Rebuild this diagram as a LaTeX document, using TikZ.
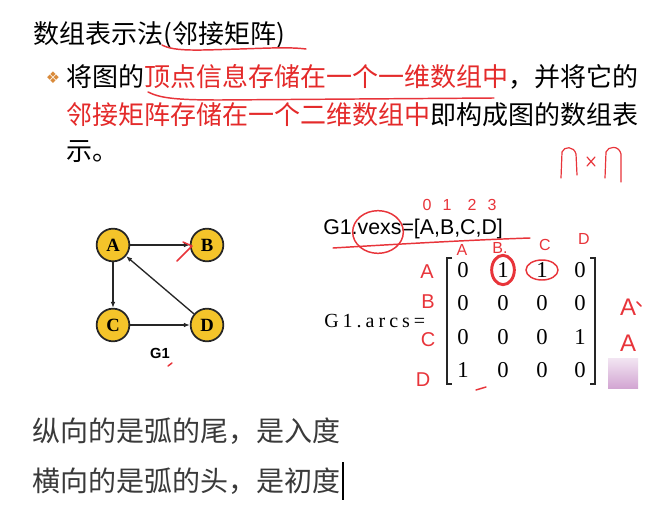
\documentclass[tikz,border=0pt]{standalone}
\usepackage{fontspec}
\setmainfont{Liberation Serif}
\newfontfamily\cjk{Noto Sans CJK SC}
\newfontfamily\lsans{Liberation Sans}
\newfontfamily\dejavu{DejaVu Sans}
\newfontfamily\arcsfont[LetterSpace=20]{Liberation Serif}
\usetikzlibrary{arrows.meta}
\definecolor{hl}{HTML}{E42A2A}
\definecolor{pen}{HTML}{E8343A}
\definecolor{gold}{HTML}{F4C42A}
\definecolor{bulletc}{HTML}{D98A3A}
\definecolor{grayt}{HTML}{3A3A3A}
\tikzset{
  txt/.style={inner sep=0pt, anchor=west},
  redpen/.style={draw=pen, line width=1.1pt, line cap=round, line join=round},
  handtxt/.style={inner sep=0pt, text=pen, font=\lsans\fontsize{12pt}{12pt}\selectfont},
  vnode/.style={circle, draw=black!85, line width=1.3pt, fill=gold, minimum size=24.5pt, inner sep=0pt,
    font=\bfseries\fontsize{14pt}{14pt}\selectfont},
  arc/.style={line width=1pt, draw=black!85, -{Latex[length=4.5pt,width=3.5pt]}},
  cell/.style={inner sep=0pt, font=\fontsize{17pt}{17pt}\selectfont}
}
\begin{document}
\begin{tikzpicture}[x=0.75pt, y=-0.75pt]
\useasboundingbox (0,0) rectangle (664,510);
\fill[white] (0,0) rectangle (664,510);

% heading and paragraph
\node[txt, font=\cjk\fontsize{19.5pt}{20pt}\selectfont] (title) at (33,35) {数组表示法(邻接矩阵)};
\node[inner sep=0pt, text=bulletc, font=\dejavu\fontsize{12pt}{12pt}\selectfont] (bul) at (53,78) {❖};
\node[txt, font=\cjk\fontsize{19.5pt}{20pt}\selectfont] (l1) at (66,77)
  {将图的\textcolor{hl}{顶点信息存储在一个一维数组中}，并将它的};
\node[txt, font=\cjk\fontsize{19.5pt}{20pt}\selectfont] (l2) at (66,115)
  {\textcolor{hl}{邻接矩阵存储在一个二维数组中}即构成图的数组表};
\node[txt, font=\cjk\fontsize{19.5pt}{20pt}\selectfont] (l3) at (66,152) {示。};

% red pen underlines and n x n
\draw[redpen] (162,45) .. controls (175,52) and (200,50) .. (240,49) .. controls (270,48) and (290,47) .. (306,49);
\draw[redpen] (148,92) .. controls (160,98) and (175,100) .. (220,100) -- (494,98);
\draw[redpen, line width=0.9pt] (561,178) -- (562,152) .. controls (564,146) and (574,146) .. (576,154) -- (577,175);
\draw[redpen, line width=0.9pt] (587,157) -- (595,166) (595,157) -- (587,166);
\draw[redpen, line width=0.9pt] (605,178) -- (606,152) .. controls (608,146) and (619,145) .. (621,154) -- (621,182);

% graph G1
\node[vnode] (A) at (113,245) {A};
\node[vnode] (B) at (207,245) {B};
\node[vnode] (C) at (113,325) {C};
\node[vnode] (D) at (207,325) {D};
\draw[arc] (A) -- (B);
\draw[arc] (A) -- (C);
\draw[arc] (C) -- (D);
\draw[arc] (D) -- (A);
\node[inner sep=0pt, font=\lsans\bfseries\fontsize{11pt}{11pt}\selectfont] (g1) at (160,353) {G1};
\draw[redpen] (177,261) -- (192,246) -- (183,242);
\draw[redpen] (168,366) -- (172,363);

% vexs
\node[txt, font=\lsans\fontsize{16pt}{16pt}\selectfont] (vexs) at (323,229) {G1.vexs=[A,B,C,D]};
\draw[redpen] (378,232) ellipse [x radius=19pt, y radius=16pt];
\draw[redpen] (333,248) .. controls (400,244) and (470,240) .. (530,238);
\foreach \t/\x in {0/427,1/447,2/472,3/492}
  \node[handtxt] (idx\t) at (\x,205) {\t};

% arcs matrix
\node[txt, font=\arcsfont\fontsize{15pt}{15pt}\selectfont] (arcs) at (324,321) {G1.arcs=};
\draw[line width=0.9pt, draw=black!85] (452,258) -- (447,258) -- (447,384) -- (452,384);
\draw[line width=0.9pt, draw=black!85] (590,258) -- (595,258) -- (595,384) -- (590,384);
\foreach \r/\y/\a/\b/\c/\d in {1/270/0/1/1/0, 2/303/0/0/0/0, 3/337/0/0/0/1, 4/370/1/0/0/0}{
  \node[cell] (m\r1) at (463,\y) {\a};
  \node[cell] (m\r2) at (503,\y) {\b};
  \node[cell] (m\r3) at (542,\y) {\c};
  \node[cell] (m\r4) at (580,\y) {\d};
}
\draw[draw=pen, line width=2.2pt] (m12) ellipse [x radius=8.5pt, y radius=11pt];
\draw[redpen] (m13) ellipse [x radius=12pt, y radius=7.5pt];

% red labels
\node[handtxt] (ca) at (462,250) {A};
\node[handtxt] (cb) at (500,248) {B.};
\node[handtxt] (cc) at (545,245) {C};
\node[handtxt] (cd) at (584,239) {D};
\node[handtxt, font=\lsans\fontsize{15pt}{15pt}\selectfont] (ra) at (427,272) {A};
\node[handtxt, font=\lsans\fontsize{15pt}{15pt}\selectfont] (rb) at (428,302) {B};
\node[handtxt, font=\lsans\fontsize{15pt}{15pt}\selectfont] (rc) at (428,340) {C};
\node[handtxt, font=\lsans\fontsize{15pt}{15pt}\selectfont] (rd) at (423,380) {D};
\node[handtxt, font=\lsans\fontsize{18pt}{18pt}\selectfont] (rx1) at (628,307) {A};
\node[handtxt, font=\lsans\fontsize{18pt}{18pt}\selectfont] (rx2) at (628,343) {A};
\draw[redpen] (637,302) -- (641,306);
\draw[redpen] (476,390) -- (486,387);
\shade[top color=violet!10, bottom color=violet!35] (608,358) rectangle (638,388);

% bottom notes
\node[txt, text=grayt, font=\cjk\fontsize{21pt}{21pt}\selectfont] (b1) at (32,431) {纵向的是弧的尾，是入度};
\node[txt, text=grayt, font=\cjk\fontsize{21pt}{21pt}\selectfont] (b2) at (32,481) {横向的是弧的头，是初度};
\draw[line width=1.5pt] ([xshift=1.5pt]b2.east) ++(0,-19) -- ++(0,38);
\end{tikzpicture}
\end{document}
